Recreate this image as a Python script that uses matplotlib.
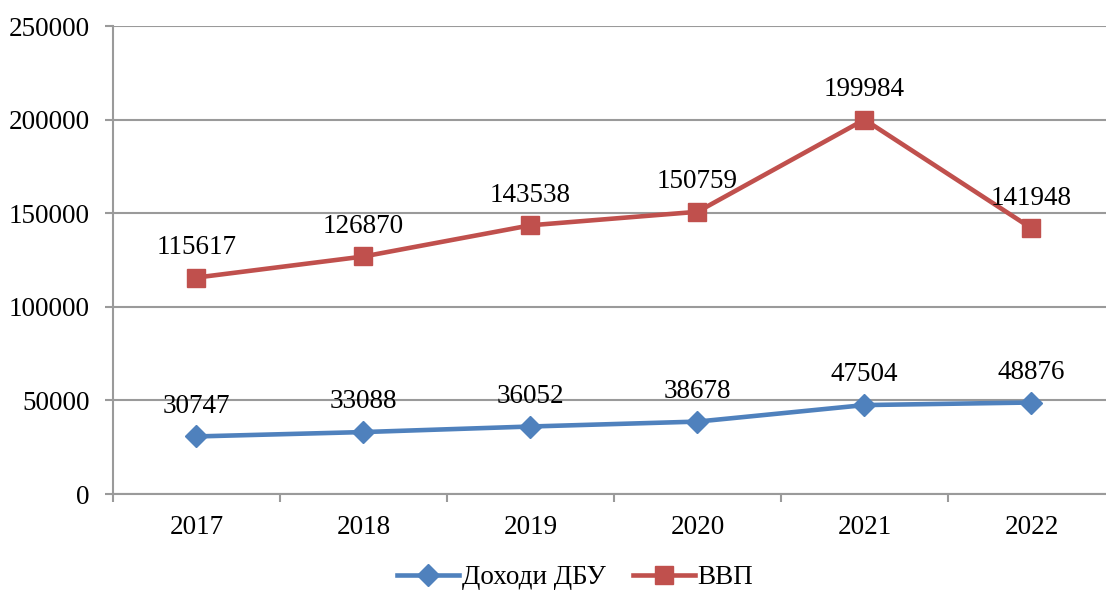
import matplotlib
matplotlib.use("Agg")
import matplotlib.pyplot as plt
import numpy as np

plt.rcParams['font.family'] = ['Liberation Serif', 'DejaVu Serif']

years = ['2017', '2018', '2019', '2020', '2021', '2022']
dbu = [30747, 33088, 36052, 38678, 47504, 48876]
gdp = [115617, 126870, 143538, 150759, 199984, 141948]

blue = '#4F81BD'
red = '#C0504D'
grid_c = '#9A9A9A'
fs = 19.5

fig = plt.figure(figsize=(11.06, 5.94), dpi=100)
# plot area runs a little past the right edge of the canvas
ax = fig.add_axes([113 / 1106, 1 - 494 / 594, 1002 / 1106, 468 / 594])

x = np.arange(len(years))
ax.plot(x, dbu, color=blue, lw=3.3, marker='D', ms=11, label='Доходи ДБУ', zorder=3)
ax.plot(x, gdp, color=red, lw=3.3, marker='s', ms=13, label='ВВП', zorder=3)

for xi, v in zip(x, dbu):
    ax.annotate(str(v), (xi, v), xytext=(0, 17), textcoords='offset points',
                ha='center', va='baseline', fontsize=fs)
for xi, v in zip(x, gdp):
    ax.annotate(str(v), (xi, v), xytext=(0, 17), textcoords='offset points',
                ha='center', va='baseline', fontsize=fs)

ax.set_xlim(-0.5, len(years) - 0.5)
ax.set_ylim(0, 250000)
ax.set_yticks(np.arange(0, 250001, 50000))
ax.set_xticks(x)
ax.set_xticklabels(years)
ax.set_xticks(np.arange(-0.5, len(years)), minor=True)
ax.tick_params(axis='x', which='major', length=0, pad=15, labelsize=fs)
ax.tick_params(axis='x', which='minor', length=6, color=grid_c, width=1.5)
ax.tick_params(axis='y', length=6, color=grid_c, width=1.5, pad=11, labelsize=fs)

ax.grid(axis='y', color=grid_c, lw=1.5, zorder=0)
for s in ['top', 'right']:
    ax.spines[s].set_visible(False)
for s in ['left', 'bottom']:
    ax.spines[s].set_color(grid_c)
    ax.spines[s].set_linewidth(1.5)

fig.legend(loc='center', bbox_to_anchor=(0.52, 1 - 578 / 594), ncol=2, frameon=False,
           fontsize=fs, handlelength=2.3, columnspacing=1.0, handletextpad=0.1)

fig.savefig('out.png', dpi=100)
